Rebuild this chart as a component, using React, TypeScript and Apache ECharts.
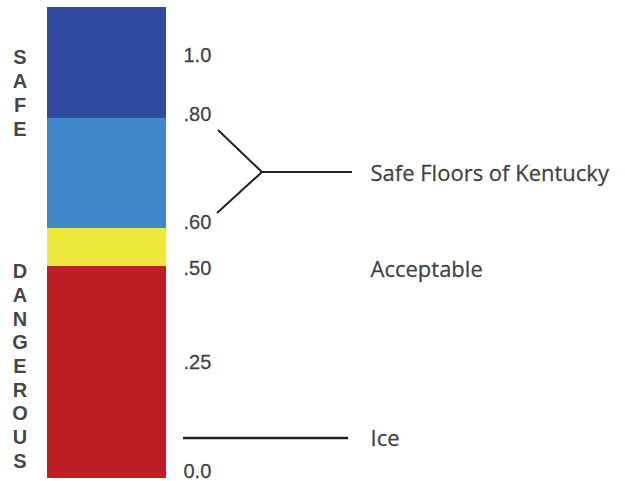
import React, { useEffect, useRef } from "react";
import * as echarts from "echarts";

// Schematic scale: stacked zone heights (bottom to top)
const zoneNames = ["Dangerous", "Acceptable", "Safe Floors of Kentucky", "Safe"];
const zoneHeights = [212, 38, 110, 111];
const zoneColors = ["#BE1F25", "#EEE83B", "#3E87C8", "#2F4A9E"];

// Friction tick labels and their levels on the schematic scale
const tickLabels = ["0.0", ".25", ".50", ".60", ".80", "1.0"];
const tickLevels = [7, 116, 210, 256, 364, 423];

// Right-hand annotations
const annotationLabels = ["Ice", "Acceptable", "Safe Floors of Kentucky"];
const annotationLevels = [41, 210, 306];
const iceLevel = 40;
const bracketLevels = [348, 306, 265]; // upper arm end, vertex, lower arm end

// Side words written vertically
const sideWords = ["SAFE", "DANGEROUS"];
const sideLevels = [385, 112];

const W = 625;
const H = 481;

export default function App() {
  const ref = useRef<HTMLDivElement>(null);
  useEffect(() => {
    if (!ref.current) return;
    const chart = echarts.init(ref.current, undefined, { renderer: "svg" });
    const total = zoneHeights.reduce((a, b) => a + b, 0);
    const top = 7;
    const bottom = 3;
    const textColor = "#111111";
    const labelX = 183;
    const annX = 370;
    const bracketArmX = 218;
    const bracketVertexX = 262;
    const bracketEndX = 352;
    const iceStartX = 183;
    const iceEndX = 348;

    const barSeries = zoneNames.map((name, i) => ({
      name,
      type: "bar",
      stack: "zones",
      xAxisIndex: 0,
      yAxisIndex: 0,
      barWidth: "100%",
      barCategoryGap: "0%",
      itemStyle: { color: zoneColors[i] },
      data: [zoneHeights[i]],
      silent: true,
    }));

    const option: any = {
      animation: false,
      backgroundColor: "#ffffff",
      grid: [
        { left: 47, top, width: 119, height: H - top - bottom },
        { left: 0, top, width: W, height: H - top - bottom },
      ],
      xAxis: [
        { type: "category", gridIndex: 0, data: ["floor"], show: false },
        { type: "value", gridIndex: 1, min: 0, max: W, show: false },
      ],
      yAxis: [
        { type: "value", gridIndex: 0, min: 0, max: total, show: false },
        { type: "value", gridIndex: 1, min: 0, max: total, show: false },
      ],
      series: [
        ...barSeries,
        {
          type: "scatter",
          xAxisIndex: 1,
          yAxisIndex: 1,
          symbolSize: 1,
          itemStyle: { color: "transparent" },
          silent: true,
          label: {
            show: true,
            position: "right",
            distance: 0,
            formatter: (p: any) => p.name,
            color: textColor,
            fontFamily: "Liberation Sans, Arial, sans-serif",
            fontSize: 20,
            textBorderColor: textColor,
            textBorderWidth: 0.3,
          },
          data: tickLabels.map((t, i) => ({ name: t, value: [labelX, tickLevels[i]] })),
        },
        {
          type: "scatter",
          xAxisIndex: 1,
          yAxisIndex: 1,
          symbolSize: 1,
          itemStyle: { color: "transparent" },
          silent: true,
          label: {
            show: true,
            position: "right",
            distance: 0,
            formatter: (p: any) => p.name,
            color: textColor,
            fontFamily: "Open Sans, sans-serif",
            fontSize: 22,
            textBorderColor: textColor,
            textBorderWidth: 0.3,
          },
          data: annotationLabels.map((t, i) => ({ name: t, value: [annX, annotationLevels[i]] })),
        },
        {
          type: "scatter",
          xAxisIndex: 1,
          yAxisIndex: 1,
          symbolSize: 1,
          itemStyle: { color: "transparent" },
          silent: true,
          label: {
            show: true,
            position: "inside",
            formatter: (p: any) => p.name.split("").join("\n"),
            color: textColor,
            fontFamily: "Liberation Sans Narrow, Liberation Sans, Arial, sans-serif",
            fontWeight: "bold",
            fontSize: 20,
            lineHeight: 23.7,
            align: "center",
            verticalAlign: "middle",
          },
          data: sideWords.map((w, i) => ({ name: w, value: [20, sideLevels[i]] })),
        },
        {
          type: "line",
          xAxisIndex: 1,
          yAxisIndex: 1,
          symbol: "none",
          silent: true,
          lineStyle: { color: "#222", width: 2 },
          data: [
            [bracketArmX, bracketLevels[0]],
            [bracketVertexX, bracketLevels[1]],
            [bracketArmX - 1, bracketLevels[2]],
          ],
        },
        {
          type: "line",
          xAxisIndex: 1,
          yAxisIndex: 1,
          symbol: "none",
          silent: true,
          lineStyle: { color: "#222", width: 2 },
          data: [
            [bracketVertexX, bracketLevels[1]],
            [bracketEndX, bracketLevels[1]],
          ],
        },
        {
          type: "line",
          xAxisIndex: 1,
          yAxisIndex: 1,
          symbol: "none",
          silent: true,
          lineStyle: { color: "#222", width: 2.5 },
          data: [
            [iceStartX, iceLevel],
            [iceEndX, iceLevel],
          ],
        },
      ],
    };
    chart.setOption(option);
    return () => chart.dispose();
  }, []);
  return (
    <div
      ref={ref}
      style={{ position: "fixed", left: 0, top: 0, width: W, height: H, background: "#fff" }}
    />
  );
}
